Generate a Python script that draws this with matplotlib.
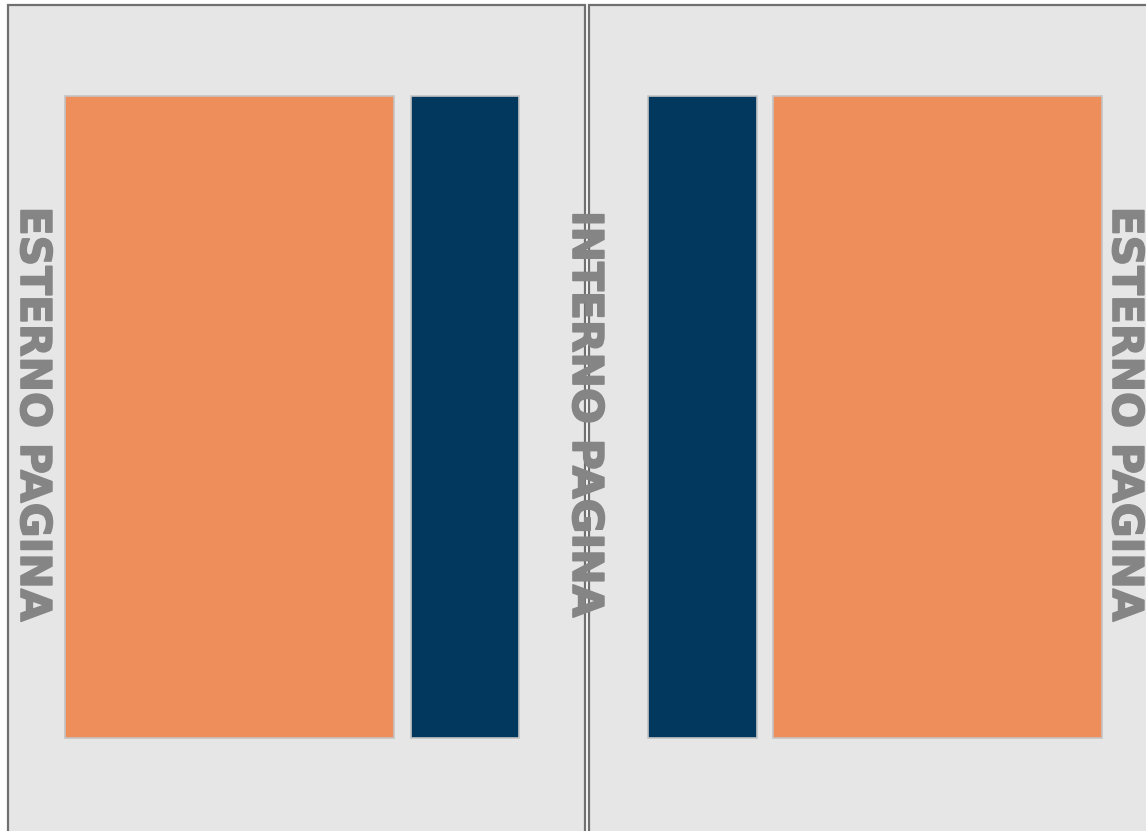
import matplotlib
matplotlib.use('Agg')
from matplotlib import pyplot as plt
from matplotlib.patches import Rectangle
import matplotlib.patheffects as pe

# Page frames (left edge, right edge, top) in pixels
page_left = [8, 589]
page_right = [585, 1160]
page_top = 5

# Text columns on the two pages: left x, width
column_x = [65, 411, 648, 773]
column_w = [329, 108, 109, 329]
column_colors = ['#ee8e5a', '#02375e', '#02375e', '#ee8e5a']
column_top = 96
column_bottom = 738

# Side labels
label_text = ['ESTERNO PAGINA', 'INTERNO PAGINA', 'ESTERNO PAGINA']
label_x = [33, 585, 1125]
label_y = 414

W, H = 1146, 831
fig = plt.figure(figsize=(W / 100, H / 100), dpi=100)
fig.patch.set_facecolor('white')
ax = fig.add_axes([0, 0, 1, 1])
ax.set_xlim(0, W)
ax.set_ylim(H, 0)
ax.axis('off')

for l, r in zip(page_left, page_right):
    ax.add_patch(Rectangle((l, page_top), r - l, H + 20 - page_top,
                           facecolor='#e6e6e6', edgecolor='#707070', linewidth=1.6))

for x, w, c in zip(column_x, column_w, column_colors):
    ax.add_patch(Rectangle((x, column_top), w, column_bottom - column_top,
                           facecolor=c, edgecolor='#c4c4c4', linewidth=1.2))

for t, x in zip(label_text, label_x):
    ax.text(x, label_y, t, rotation=270, ha='center', va='center',
            fontsize=30.5, fontweight='bold', color='#858585',
            fontfamily='DejaVu Sans',
            path_effects=[pe.withStroke(linewidth=1.2, foreground='#858585')])

fig.savefig('out.png', dpi=100)
